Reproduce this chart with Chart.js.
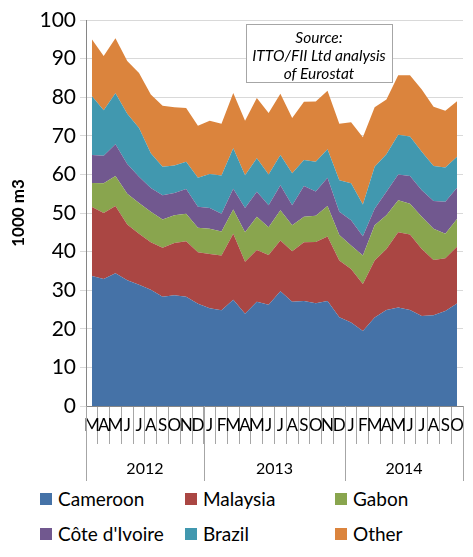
<!DOCTYPE html>
<html>
<head>
<meta charset="utf-8">
<script src="https://cdn.jsdelivr.net/npm/chart.js@4"></script>
<style>
body { margin: 0; background: #fff; font-family: Lato, sans-serif; }
#wrap { position: relative; width: 473px; height: 485px; }
#legend { position: relative; width: 473px; height: 72px; }
.item { position: absolute; font-size: 19px; color: #000; line-height: 20px; }
.item span.box { position: absolute; left: 0; top: 4px; width: 12px; height: 12px; }
.item span.txt { position: absolute; left: 18px; top: 0; white-space: nowrap; }
</style>
</head>
<body>
<div id="wrap"><canvas id="areaChart"></canvas></div>
<div id="legend"></div>
<script>
const months = ['M','A','M','J','J','A','S','O','N','D',
    'J','F','M','A','M','J','J','A','S','O','N','D',
    'J','F','M','A','M','J','J','A','S','O'];
const years = ['2012', '2013', '2014'];
const yearStart = [0, 10, 22];

const cameroon = [33.7, 32.9, 34.4, 32.6, 31.4, 30.1, 28.3, 28.7, 28.3, 26.5, 25.3, 24.8, 27.5, 23.9, 27.0, 26.2,
    29.7, 27.0, 27.2, 26.6, 27.2, 23.0, 21.6, 19.4, 22.9, 24.9, 25.5, 24.9, 23.3, 23.5, 24.6, 26.6];
const malaysia = [17.9, 17.1, 17.4, 14.4, 13.2, 12.3, 12.7, 13.5, 14.4, 13.3, 14.1, 14.2, 17.1, 13.5, 13.4, 12.9,
    13.2, 13.1, 15.2, 15.9, 16.7, 14.7, 13.9, 12.2, 14.8, 15.8, 19.5, 19.5, 17.4, 14.3, 13.7, 14.7];
const gabon = [6.2, 7.7, 7.8, 8.0, 8.0, 7.9, 7.3, 7.2, 7.1, 6.4, 6.5, 6.2, 6.3, 7.6, 8.6, 7.2,
    7.8, 6.7, 6.6, 6.8, 7.9, 6.6, 6.1, 7.4, 9.1, 8.7, 8.3, 8.0, 8.3, 8.1, 6.3, 7.2];
const coteIvoire = [7.2, 7.1, 8.2, 7.7, 6.8, 6.2, 6.3, 5.8, 6.4, 5.4, 5.4, 4.6, 5.4, 6.3, 6.5, 5.7,
    6.5, 5.2, 8.0, 6.3, 7.3, 6.0, 6.5, 5.0, 4.3, 6.1, 6.7, 7.2, 6.9, 7.2, 8.3, 8.1];
const brazil = [15.3, 11.8, 13.2, 13.0, 12.6, 9.0, 7.4, 7.1, 7.1, 7.5, 8.8, 9.9, 10.5, 8.5, 8.7, 8.0,
    7.8, 8.3, 6.7, 7.7, 7.4, 8.2, 9.6, 8.2, 10.9, 9.7, 10.3, 10.2, 10.0, 9.1, 8.9, 8.0];
const other = [14.7, 14.1, 14.3, 13.7, 14.3, 15.2, 15.8, 15.1, 13.9, 13.5, 13.8, 13.4, 14.3, 14.1, 15.6, 15.9,
    15.9, 14.3, 15.1, 15.6, 15.2, 14.6, 15.8, 17.4, 15.4, 14.2, 15.4, 15.9, 16.1, 15.3, 14.7, 14.4];

const seriesNames = ['Cameroon', 'Malaysia', 'Gabon', "Côte d'Ivoire", 'Brazil', 'Other'];
const seriesData = [cameroon, malaysia, gabon, coteIvoire, brazil, other];
const seriesColors = ['#4572A7', '#AA4643', '#89A54E', '#71588F', '#4198AF', '#DB843D'];
const yTicks = [0, 10, 20, 30, 40, 50, 60, 70, 80, 90, 100];

// year labels, year separators and the source box
const extrasPlugin = {
    id: 'extras',
    afterDraw(chart) {
        const ctx = chart.ctx;
        const x = chart.scales.x;
        const area = chart.chartArea;
        const bounds = [area.left];
        for (let i = 1; i < yearStart.length; i++) {
            const k = yearStart[i];
            bounds.push((x.getPixelForValue(k - 1) + x.getPixelForValue(k)) / 2);
        }
        bounds.push(area.right);
        ctx.save();
        ctx.strokeStyle = '#A6A6A6';
        ctx.lineWidth = 1;
        bounds.forEach(b => {
            const px = Math.round(b) + 0.5;
            ctx.beginPath();
            ctx.moveTo(px, area.bottom);
            ctx.lineTo(px, area.bottom + 75);
            ctx.stroke();
        });
        ctx.fillStyle = '#000';
        ctx.font = '16px Lato';
        ctx.textAlign = 'center';
        ctx.textBaseline = 'middle';
        years.forEach((y, i) => {
            ctx.fillText(y, (bounds[i] + bounds[i + 1]) / 2, area.bottom + 63);
        });

        // source note
        ctx.fillStyle = '#fff';
        ctx.fillRect(246.5, 24.5, 146, 58);
        ctx.strokeStyle = '#A6A6A6';
        ctx.strokeRect(246.5, 24.5, 146, 58);
        ctx.fillStyle = '#000';
        ctx.font = 'italic 15.5px Lato';
        ctx.fillText('Source:', 319, 38);
        ctx.fillText('ITTO/FII Ltd analysis', 319, 56);
        ctx.fillText('of Eurostat', 319, 74);
        ctx.restore();
    }
};

const ctx = document.getElementById('areaChart').getContext('2d');
new Chart(ctx, {
    type: 'line',
    data: {
        labels: months,
        datasets: seriesNames.map((name, i) => ({
            label: name,
            data: seriesData[i],
            backgroundColor: seriesColors[i],
            borderColor: seriesColors[i],
            borderWidth: 0,
            pointRadius: 0,
            tension: 0,
            fill: i === 0 ? 'origin' : '-1'
        }))
    },
    options: {
        responsive: true,
        maintainAspectRatio: false,
        animation: false,
        layout: { padding: { top: 20, right: 10, left: 0, bottom: 0 } },
        plugins: {
            legend: { display: false },
            tooltip: { enabled: false }
        },
        scales: {
            x: {
                offset: true,
                grid: {
                    offset: true,
                    drawOnChartArea: false,
                    tickLength: 38,
                    color: '#A6A6A6'
                },
                border: { color: '#868686' },
                ticks: {
                    autoSkip: false,
                    maxRotation: 0,
                    minRotation: 0,
                    padding: -29,
                    color: '#000',
                    font: { family: 'Lato', size: 17 }
                },
                afterFit(scale) { scale.height = 79; }
            },
            y: {
                stacked: true,
                min: 0,
                max: 100,
                afterBuildTicks(scale) { scale.ticks = yTicks.map(v => ({ value: v })); },
                grid: { color: '#D9D9D9', tickLength: 6 },
                border: { color: '#868686' },
                ticks: {
                    color: '#000',
                    padding: 4,
                    font: { family: 'Lato', size: 21 }
                },
                title: {
                    display: true,
                    text: '1000 m3',
                    color: '#000',
                    font: { family: 'Lato', size: 17, weight: 'bold' },
                    padding: { top: 8, bottom: 0 }
                },
                afterFit(scale) { scale.width = 86; }
            }
        }
    },
    plugins: [extrasPlugin]
});

// legend in three columns
const legendEl = document.getElementById('legend');
const colLeft = [40, 185, 335];
seriesNames.forEach((name, i) => {
    const div = document.createElement('div');
    div.className = 'item';
    div.style.left = colLeft[i % 3] + 'px';
    div.style.top = (i < 3 ? 4 : 39) + 'px';
    div.innerHTML = '<span class="box" style="background:' + seriesColors[i] + '"></span><span class="txt">' + name + '</span>';
    legendEl.appendChild(div);
});
</script>
</body>
</html>
